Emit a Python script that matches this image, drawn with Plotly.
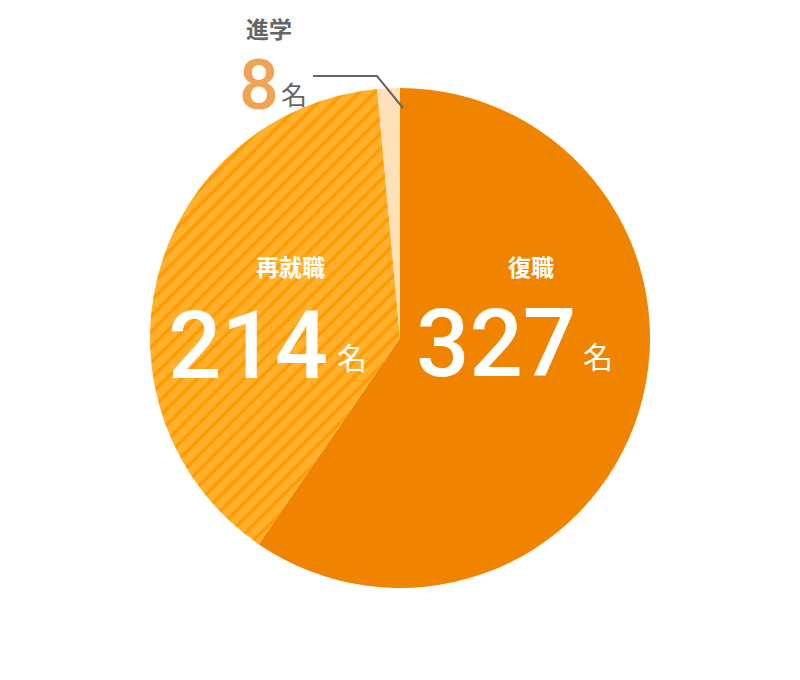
import plotly.graph_objects as go

labels = ["復職", "再就職", "進学"]
values = [327, 214, 8]
colors = ["#F08300", "#FFB12E", "#FFE1B9"]

W, H = 800, 680


def px(x):
    return x / W


def py(y):
    return 1 - y / H


fig = go.Figure()
fig.add_trace(go.Pie(
    labels=labels, values=values, sort=False, direction="clockwise", rotation=0,
    textinfo="none", hoverinfo="label+value",
    marker=dict(colors=colors, line=dict(width=0),
                pattern=dict(shape=["", "/", ""], fgcolor="#FF9A00", bgcolor=colors,
                             size=11, solidity=0.3)),
    domain=dict(x=[px(142), px(642)], y=[py(580), py(80)]),
    showlegend=False,
))

num_font = "Roboto, sans-serif"
jp_font = "Noto Sans CJK JP, sans-serif"

ann = []
def add(text, x, y, size, color, family, xanchor="center", yanchor="middle", weight="normal"):
    ann.append(dict(text=text, x=px(x), y=py(y), xref="paper", yref="paper",
                    showarrow=False, xanchor=xanchor, yanchor=yanchor,
                    font=dict(size=size, color=color, family=family, weight=weight)))

# 復職
add(labels[0], 523, 258, 23, "white", jp_font, weight="bold")
add(str(values[0]), 570, 336, 94, "white", num_font, xanchor="right", weight=500)
add("名", 573, 347, 30, "white", jp_font, xanchor="left")
# 再就職
add(labels[1], 282, 258, 23, "white", jp_font, weight="bold")
add(str(values[1]), 322, 338, 94, "white", num_font, xanchor="right", weight=500)
add("名", 327, 348, 30, "white", jp_font, xanchor="left")
# 進学
add(labels[2], 261, 20, 23, "#666666", jp_font, weight="bold")
add(str(values[2]), 251, 77, 70, "#F0A354", num_font, weight=500)
add("名", 271, 85, 26, "#666666", jp_font, xanchor="left")

fig.update_layout(
    width=W, height=H, margin=dict(l=0, r=0, t=0, b=0),
    paper_bgcolor="white", plot_bgcolor="white",
    annotations=ann,
    shapes=[dict(type="path", xref="paper", yref="paper",
                 path=f"M {px(305)} {py(68)} L {px(369)} {py(68)} L {px(395)} {py(100)}",
                 line=dict(color="#666666", width=2))],
)

fig.write_html("out.html")
